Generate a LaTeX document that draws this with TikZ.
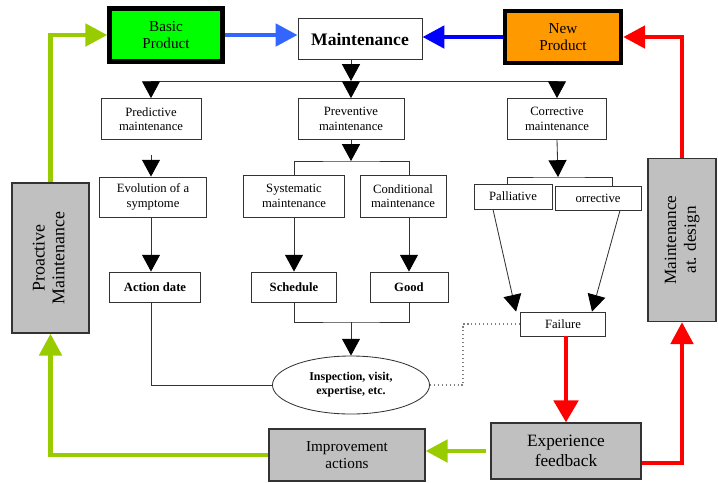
\documentclass[tikz,border=0pt]{standalone}
\usepackage{fontspec}
\setmainfont{Liberation Serif}
\usepackage{graphicx}
\usepackage{xcolor}
\usepackage{tikz}
\usetikzlibrary{positioning,shapes,arrows.meta}
\definecolor{prodgreen}{HTML}{00FF00}
\definecolor{prodorange}{HTML}{FF9900}
\definecolor{boxgray}{HTML}{C0C0C0}
\definecolor{softblue}{HTML}{3366FF}
\definecolor{limegreen}{HTML}{99CC00}

\begin{document}
\begin{tikzpicture}[x=0.025cm, y=-0.025cm,
					mbox/.style = {rectangle, draw=black!80, line width=0.6pt, align=center, inner sep=1pt, font=\fontsize{9}{10.2}\selectfont},
					bbox/.style = {mbox, font=\fontsize{9}{10.2}\selectfont\bfseries},
					prodbox/.style = {rectangle, draw=black, line width=3pt, align=center, font=\fontsize{10.8}{12}\selectfont},
					graybox/.style = {rectangle, draw=black!80, line width=0.8pt, fill=boxgray, align=center},
					link/.style = {draw=black!80, line width=0.6pt},
					arr/.style = {link, -{Triangle[length=0.42cm,width=0.45cm,color=black,fill=black]}},
					fatarr/.style = {line width=3.5pt, -{Triangle[length=0.55cm,width=0.55cm]}}]
					\useasboundingbox (0,0) rectangle (718,482);
					\node[prodbox, fill=prodgreen, minimum width=2.825cm, minimum height=1.325cm] (basic) at (166,35) {Basic\\Product};
					\node[mbox, font=\fontsize{12.5}{14}\selectfont\bfseries, minimum width=3.1cm, minimum height=1.025cm] (maint) at (360,39) {Maintenance};
					\node[prodbox, fill=prodorange, minimum width=2.9cm, minimum height=1.3cm] (newp) at (563,37) {New\\Product};
					
					\node[mbox, minimum width=2.5cm, minimum height=1.025cm] (pred) at (151,119) {Predictive\\maintenance};
					\node[mbox, minimum width=2.65cm, minimum height=1.025cm] (prev) at (351,119) {Preventive\\maintenance};
					\node[mbox, minimum width=2.475cm, minimum height=1.025cm] (corr) at (557,119) {Corrective\\maintenance};
					
					\node[mbox, minimum width=2.675cm, minimum height=1cm] (evol) at (153,197) {Evolution of a\\symptome};
					\node[mbox, minimum width=2.525cm, minimum height=1.05cm] (syst) at (294,196) {Systematic\\maintenance};
					\node[mbox, minimum width=2.15cm, minimum height=1.05cm] (cond) at (403,196) {Conditional\\maintenance};
					\node[mbox, minimum width=1.95cm, minimum height=0.625cm] (pall) at (513,196.5) {Palliative};
					\node[mbox, minimum width=2.15cm, minimum height=0.6cm] (orr) at (598,198) {orrective};
					
					\node[bbox, minimum width=2.275cm, minimum height=0.75cm] (act) at (155,287) {Action date};
					\node[bbox, minimum width=2.125cm, minimum height=0.75cm] (sched) at (294,287) {Schedule};
					\node[bbox, minimum width=1.95cm, minimum height=0.75cm] (good) at (409,287) {Good};
					\node[mbox, minimum width=2.125cm, minimum height=0.6cm] (fail) at (563,324) {Failure};
					\node[ellipse, draw=black!80, line width=0.6pt, minimum width=3.925cm, minimum height=1.45cm, align=center, inner sep=0pt, font=\fontsize{8.5}{10}\selectfont\bfseries] (insp) at (351,385) {Inspection, visit,\\expertise, etc.};
					
					\node[graybox, minimum width=1.925cm, minimum height=3.75cm] (proact) at (50.5,258) {\rotatebox{90}{\fontsize{12.7}{14}\selectfont\begin{tabular}{@{}c@{}}Proactive\\Maintenance\end{tabular}}};
					\node[graybox, minimum width=1.7cm, minimum height=4.075cm] (mdes) at (682,240) {\rotatebox{90}{\fontsize{12.2}{14}\selectfont\begin{tabular}{@{}c@{}}Maintenance\\at. design\end{tabular}}};
					\node[graybox, font=\fontsize{12.3}{14.2}\selectfont, minimum width=3.75cm, minimum height=1.4cm] (exp) at (566,451) {Experience\\feedback};
					\node[graybox, font=\fontsize{10.8}{12.5}\selectfont, minimum width=3.9cm, minimum height=1.3cm] (impr) at (347,455) {Improvement\\actions};
					
					\coordinate (topbar) at (351,81);
					\coordinate (prevbar) at (351,161);
					\coordinate (corrbar) at (558,177);
					\coordinate (lowbar) at (351,322);
					\coordinate (dotbend) at (463,324);
					
					\draw[fatarr, draw=softblue] (basic.east) -- (basic.east -| maint.west);
					\draw[fatarr, draw=blue] (newp.west) -- (newp.west -| maint.east);
					\draw[fatarr, draw=red] (mdes.north) |- (newp.east);
					\draw[fatarr, draw=limegreen] (proact.north) |- (basic.west);
					
					\draw[arr] (maint.south -| topbar) -- (topbar);
					\draw[link] (topbar -| pred) -- (topbar -| corr);
					\draw[arr] (topbar -| pred) -- (pred.north);
					\draw[arr] (topbar) -- (prev.north);
					\draw[arr] (topbar -| corr) -- (corr.north);
					
					\draw[arr, shorten <=0.375cm] (pred.south) -- (evol.north -| pred.south);
					\draw[arr] (evol.south -| pred.south) -- (act.north -| pred.south);
					\draw[link] (act.south -| pred.south) |- (insp.west);
					
					\draw[arr] (prev.south) -- (prevbar);
					\draw[link] (syst.north) |- (prevbar) -| (good.north |- cond.north);
					\draw[arr] (syst.south) -- (sched.north);
					\draw[arr] (cond.south -| good) -- (good.north);
					\draw[link] (sched.south) |- (lowbar) -| (good.south);
					\draw[arr] (lowbar) -- (insp.north);
					
					\draw[arr] (corr.south) -- (corrbar);
					\draw[link] ([xshift=-0.15cm]pall.north) |- (corrbar) -| ([xshift=0.35cm]orr.north);
					\draw[arr] ([xshift=-0.5cm]pall.south) -- ([xshift=-0.1cm]fail.north west);
					\draw[arr] ([xshift=0.55cm]orr.south) -- ([xshift=0.725cm]fail.north);
					\draw[dotted, draw=black!50, line width=0.8pt] (insp.east) -| (dotbend) |- (fail.west);
					
					\draw[fatarr, draw=red, -{Triangle[length=0.55cm,width=0.6cm]}] (fail.south -| exp.north) -- (exp.north);
					\draw[fatarr, draw=red] ([yshift=-0.3cm]exp.east) -| (mdes.south);
					\draw[fatarr, draw=limegreen, shorten <=0.1cm] (exp.west) -- (exp.west -| impr.east);
					\draw[fatarr, draw=limegreen] (impr.west) -| (proact.south);
				\end{tikzpicture}
\end{document}
